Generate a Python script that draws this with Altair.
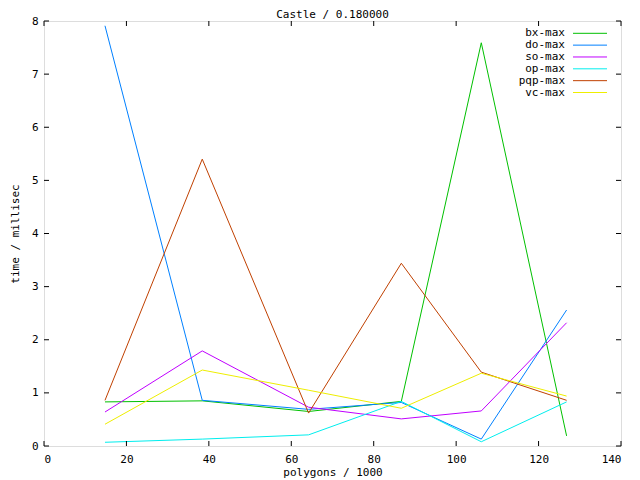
import altair as alt
import pandas as pd

polygons = [14.8, 38.4, 64.2, 86.7, 106.1, 126.8]
series_names = ["bx-max", "do-max", "so-max", "op-max", "pqp-max", "vc-max"]
bx_max = [0.83, 0.85, 0.65, 0.84, 7.59, 0.19]
do_max = [7.91, 0.86, 0.69, 0.82, 0.13, 2.56]
so_max = [0.64, 1.79, 0.73, 0.51, 0.66, 2.32]
op_max = [0.07, 0.13, 0.21, 0.84, 0.08, 0.83]
pqp_max = [0.86, 5.40, 0.62, 3.44, 1.39, 0.86]
vc_max = [0.41, 1.43, 1.05, 0.71, 1.37, 0.94]
colors = ["#00c000", "#0080ff", "#c000ff", "#00eeee", "#c04000", "#eeee00"]
x_ticks = [0, 20, 40, 60, 80, 100, 120, 140]
y_ticks = [0, 1, 2, 3, 4, 5, 6, 7, 8]

all_series = [bx_max, do_max, so_max, op_max, pqp_max, vc_max]
rows = []
for name, vals in zip(series_names, all_series):
    for xv, yv in zip(polygons, vals):
        rows.append({"x": xv, "y": yv, "series": name})
df = pd.DataFrame(rows)
leg = pd.DataFrame({"series": series_names, "idx": list(range(len(series_names)))})
xt = pd.DataFrame({"x": x_ticks})
yt = pd.DataFrame({"v": y_ticks})

FONT = "DejaVu Sans Mono"
W, H = 577, 425
color_scale = alt.Scale(domain=series_names, range=colors)
xs = alt.Scale(domain=[0, 140], nice=False, zero=False)
ys = alt.Scale(domain=[0, 8], nice=False, zero=False)

common_axis = dict(grid=False, domain=False, ticks=False,
                   labelFont=FONT, labelFontSize=11, labelColor="black",
                   titleFont=FONT, titleFontSize=11, titleColor="black", titleFontWeight="normal")
x_axis = alt.Axis(values=x_ticks, title="polygons / 1000", labelPadding=7, titlePadding=2,
                  **common_axis)
x_enc = alt.X("x:Q", scale=xs, axis=x_axis)

lines = alt.Chart(df).mark_line(strokeWidth=1, clip=True).encode(
    x=x_enc,
    y=alt.Y("y:Q", scale=ys, axis=alt.Axis(values=y_ticks, title="time / millisec",
                                           labelPadding=6, titlePadding=11, **common_axis)),
    color=alt.Color("series:N", scale=color_scale, legend=None),
    detail="series:N",
)

tick_style = dict(color="black", strokeWidth=1)
xb = alt.Chart(xt).mark_rule(**tick_style).encode(
    x=x_enc, y=alt.value(H - 5), y2=alt.value(H))
xtop = alt.Chart(xt).mark_rule(**tick_style).encode(
    x=x_enc, y=alt.value(0), y2=alt.value(5))
yl = alt.Chart(yt).mark_rule(**tick_style).encode(
    y=alt.Y("v:Q", scale=ys, axis=None), x=alt.value(0), x2=alt.value(5))
yr = alt.Chart(yt).mark_rule(**tick_style).encode(
    y=alt.Y("v:Q", scale=ys, axis=None), x=alt.value(W - 5), x2=alt.value(W))

leg_y = alt.Y("idx:Q", scale=alt.Scale(domain=[0, 5], range=[12.3, 71.5]), axis=None)
leg_text = alt.Chart(leg).mark_text(align="right", baseline="middle", font=FONT, fontSize=11,
                                    color="black").encode(
    x=alt.value(521), y=leg_y, text="series:N")
leg_rule = alt.Chart(leg).mark_rule(strokeWidth=1).encode(
    x=alt.value(529), x2=alt.value(563), y=leg_y,
    color=alt.Color("series:N", scale=color_scale, legend=None))

chart = alt.layer(lines, xb, xtop, yl, yr, leg_text, leg_rule).resolve_scale(
    y="independent").properties(
    width=W, height=H,
    title=alt.TitleParams("Castle / 0.180000", font=FONT, fontSize=11, fontWeight="normal",
                          color="black", offset=-5),
    autosize=alt.AutoSizeParams(type="none"),
    padding={"left": 36, "top": 13, "right": 10, "bottom": 40},
).configure_view(stroke="black", strokeWidth=1).configure(background="white")

chart.save("out.html", embed_options={"renderer": "svg", "actions": False})
